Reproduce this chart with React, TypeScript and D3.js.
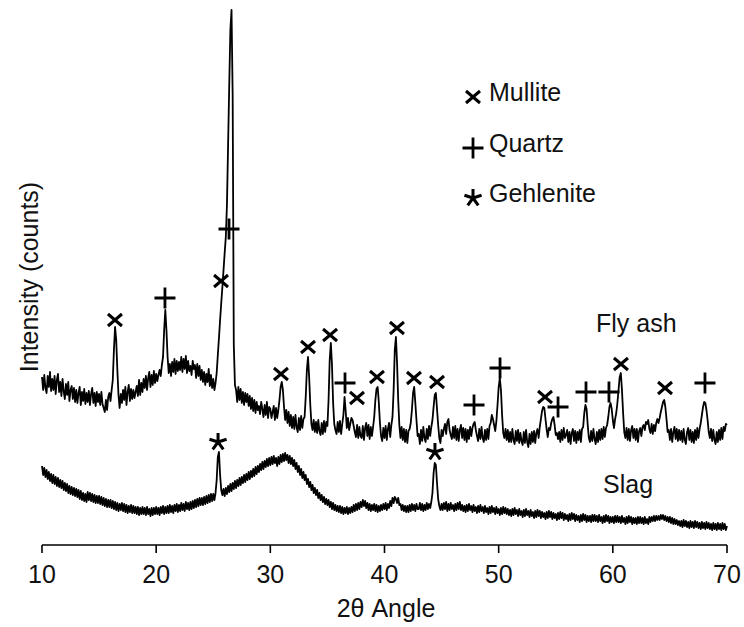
import React from 'react';
import * as d3 from 'd3';

// Diffraction angle sampling (2θ, degrees)
const ANGLE_START = 10;
const ANGLE_STEP = 0.1;

// Fly ash intensity (arbitrary counts), one row per degree, 10.0 … 69.9, then 70.0
const flyAsh: number[] = [
  168,155,170,157,152,169,158,173,154,166,
  155,169,151,165,171,153,163,149,166,154,
  146,161,150,163,144,155,159,146,157,143,
  155,142,152,158,140,153,144,156,141,152,
  143,154,140,151,157,142,152,139,153,143,
  151,140,153,141,137,133,145,135,148,152,
  144,155,165,195,218,205,175,150,137,151,
  142,155,145,158,140,153,160,144,156,146,
  155,147,153,159,149,165,150,162,153,166,
  157,169,155,167,173,158,170,160,174,162,
  171,164,170,175,169,180,188,215,235,215,
  188,172,181,169,183,173,186,171,184,174,
  183,175,188,173,186,176,189,172,184,174,
  179,170,184,176,180,167,181,169,179,165,
  175,163,173,160,171,163,176,159,170,157,
  166,155,162,172,190,207,225,242,258,275,
  292,308,340,400,460,515,535,450,200,160,
  155,143,158,145,156,142,153,140,152,143,
  151,139,149,136,147,134,145,132,143,135,
  139,131,143,136,128,140,130,143,127,138,
  136,127,133,139,125,137,127,135,145,158,
  163,155,138,125,135,122,133,119,130,117,
  128,116,130,118,113,127,115,129,117,126,
  128,148,175,188,168,140,121,115,125,113,
  123,112,125,114,110,122,111,124,113,123,
  119,145,185,202,180,142,121,115,111,123,
  113,124,111,121,130,148,134,117,127,115,
  121,127,125,119,113,108,120,107,118,109,
  107,119,105,117,122,109,120,106,118,109,
  118,128,145,156,158,143,122,109,104,117,
  107,119,105,116,122,108,120,128,155,195,
  208,182,145,120,107,118,105,116,103,115,
  102,114,116,122,135,152,158,142,125,109,
  111,101,115,104,118,107,103,116,106,119,
  109,118,125,138,150,152,136,120,107,102,
  115,109,116,121,111,123,126,115,110,106,
  118,107,119,105,116,104,115,120,107,117,
  105,116,103,115,106,118,109,117,121,123,
  115,109,104,116,106,118,107,103,115,105,
  116,106,119,122,130,126,120,114,124,140,
  158,167,155,130,112,107,116,105,115,103,
  113,103,116,105,101,114,104,115,102,112,
  104,100,113,102,115,103,98,111,101,113,
  103,114,102,112,116,107,118,126,134,138,
  137,126,116,108,117,115,122,126,128,120,
  110,112,106,113,103,115,105,117,107,110,
  115,103,113,101,112,116,104,114,102,113,
  105,115,103,116,118,132,140,136,120,107,
  103,114,104,116,106,101,113,103,115,105,
  116,106,118,108,117,120,128,138,142,136,
  125,117,126,132,142,155,168,172,155,132,
  113,107,117,105,116,104,115,119,107,116,
  105,116,103,114,117,109,118,120,115,123,
  121,125,116,112,121,111,120,114,122,126,
  122,127,133,138,143,145,138,126,113,115,
  105,116,103,113,118,106,116,104,115,105,
  114,103,116,105,101,113,117,105,115,103,
  113,102,115,105,117,107,116,122,130,138,
  143,142,135,125,113,107,116,104,115,105,
  101,113,103,115,105,117,106,118,114,121,
  120,
];

// Slag intensity (arbitrary counts), same sampling
const slag: number[] = [
  79,70,77,68,75,66,73,64,71,62,
  70,61,68,59,67,58,65,57,64,55,
  62,54,61,52,59,51,58,50,57,49,
  56,48,55,46,54,45,52,44,51,43,
  53,45,52,44,51,43,50,42,49,42,
  49,41,48,40,47,39,46,38,45,38,
  45,37,44,36,43,35,42,34,41,35,
  42,34,41,33,40,32,39,33,40,32,
  39,32,38,31,38,30,37,31,38,31,
  37,30,38,31,36,29,37,30,37,31,
  38,31,37,30,38,32,39,31,38,32,
  39,32,40,33,39,32,40,34,41,33,
  40,34,42,35,41,34,43,36,42,35,
  43,36,44,37,45,38,46,39,47,40,
  47,40,48,41,49,42,50,43,51,44,
  51,45,52,65,88,93,70,55,50,56,
  49,57,51,59,53,61,54,62,56,64,
  57,65,59,67,60,68,62,70,63,71,
  65,73,66,74,68,76,69,78,71,79,
  73,81,75,83,76,84,78,86,79,87,
  80,88,81,89,82,87,79,88,81,90,
  83,91,84,92,85,90,82,89,81,87,
  79,85,76,82,73,79,70,76,67,73,
  65,70,61,66,58,63,55,60,52,57,
  50,55,47,52,45,50,43,48,41,46,
  40,45,38,43,36,42,35,40,34,39,
  33,39,32,38,31,37,32,38,31,37,
  32,38,33,40,34,41,35,42,36,43,
  38,45,39,44,37,42,35,41,34,40,
  35,41,34,40,33,39,34,40,35,41,
  36,42,35,41,37,44,39,47,42,48,
  46,42,47,40,41,35,40,34,39,33,
  39,33,40,34,41,35,40,34,41,36,
  36,42,35,41,34,40,35,42,36,41,
  37,43,52,72,82,80,62,46,39,35,
  41,35,42,36,43,34,41,35,42,36,
  40,34,41,35,42,36,43,35,40,34,
  39,33,40,34,41,35,39,33,40,34,
  38,32,39,33,40,34,38,32,39,33,
  37,31,38,32,39,33,37,31,38,32,
  36,30,37,31,38,32,37,31,36,30,
  35,29,36,30,37,31,35,29,36,30,
  34,28,35,29,36,30,34,28,35,29,
  33,27,34,28,35,29,34,27,33,28,
  32,26,33,27,34,28,33,26,32,27,
  31,25,32,26,33,27,32,25,31,26,
  30,24,31,25,32,26,31,24,30,25,
  29,23,30,24,31,25,30,23,29,24,
  29,23,30,24,30,24,29,23,30,24,
  28,22,29,23,30,24,29,22,28,23,
  28,22,29,23,29,23,28,22,29,23,
  27,21,28,22,29,23,28,21,27,22,
  27,21,28,22,28,22,27,21,28,22,
  26,21,28,23,28,24,29,24,29,25,
  29,25,30,26,30,25,29,24,28,23,
  28,22,27,21,26,21,25,20,24,19,
  24,18,25,19,24,18,23,17,24,18,
  23,17,24,18,23,17,22,16,23,17,
  22,16,23,17,22,16,21,15,22,16,
  21,15,22,16,21,15,22,16,21,15,
  19,
];

const xTicks = [10, 20, 30, 40, 50, 60, 70];

// Phase annotations: [2θ angle, intensity position]
const mulliteMarks: [number, number][] = [
  [16.39, 225], [25.68, 264], [30.93, 171], [33.3, 198], [35.23, 210],
  [37.59, 147], [39.34, 168], [41.09, 217], [42.58, 167], [44.6, 163],
  [54.06, 148], [60.71, 181], [64.57, 157],
];
const quartzMarks: [number, number][] = [
  [20.77, 247], [26.38, 316], [36.54, 162], [47.84, 140], [50.12, 177],
  [55.2, 138], [57.65, 153], [59.66, 153], [68.07, 162],
];
const gehleniteMarks: [number, number][] = [[25.42, 103], [44.42, 93]];

const legendLabels = ['Mullite', 'Quartz', 'Gehlenite'];
const seriesLabels = ['Fly ash', 'Slag'];

const FONT = "'Liberation Sans', Arial, sans-serif";
const FS = 25;

function crossPath(cx: number, cy: number) {
  return `M${cx - 7},${cy - 6}L${cx + 7},${cy + 6}M${cx - 7},${cy + 6}L${cx + 7},${cy - 6}`;
}
function plusPath(cx: number, cy: number) {
  return `M${cx - 10.5},${cy}H${cx + 10.5}M${cx},${cy - 10.5}V${cy + 10.5}`;
}
function starPath(cx: number, cy: number) {
  let p = '';
  for (let k = 0; k < 5; k++) {
    const a = ((-90 + k * 72) * Math.PI) / 180;
    p += `M${cx},${cy}L${cx + 9 * Math.cos(a)},${cy + 9 * Math.sin(a)}`;
  }
  return p;
}

export default function App() {
  const W = 744;
  const H = 627;
  const x = d3.scaleLinear().domain([10, 70]).range([42, 727]);
  const y = d3.scaleLinear().domain([0, 545]).range([545, 0]);
  const line = d3
    .line<number>()
    .x((_, i) => x(ANGLE_START + i * ANGLE_STEP))
    .y((d) => y(d));

  const markerPaths = [
    { marks: mulliteMarks, fn: crossPath, sw: 3 },
    { marks: quartzMarks, fn: plusPath, sw: 2.8 },
    { marks: gehleniteMarks, fn: starPath, sw: 3 },
  ];
  const legendFns = [crossPath, plusPath, starPath];
  const legendSw = [3, 2.8, 3];
  const legendBase = [101, 152, 202];

  return (
    <svg
      width={W}
      height={H}
      style={{ position: 'absolute', left: 0, top: 0, background: '#fff' }}
      fontFamily={FONT}
    >
      <rect x={0} y={0} width={W} height={H} fill="#fff" />
      <path d={line(slag) || ''} fill="none" stroke="#000" strokeWidth={1.8} strokeLinejoin="round" />
      <path d={line(flyAsh) || ''} fill="none" stroke="#000" strokeWidth={1.8} strokeLinejoin="round" />

      {markerPaths.map((m, mi) =>
        m.marks.map((d, i) => (
          <path key={`${mi}-${i}`} d={m.fn(x(d[0]), y(d[1]))} stroke="#000" strokeWidth={m.sw} fill="none" />
        ))
      )}

      {/* x axis */}
      <line x1={x(10)} x2={x(70)} y1={545} y2={545} stroke="#000" strokeWidth={1.6} />
      {xTicks.map((t) => (
        <g key={t}>
          <line x1={x(t)} x2={x(t)} y1={545} y2={553} stroke="#000" strokeWidth={1.6} />
          <text x={x(t)} y={583} textAnchor="middle" fontSize={FS} fill="#111">
            {t}
          </text>
        </g>
      ))}
      <text x={386} y={617} textAnchor="middle" fontSize={FS} fill="#111">
        2θ Angle
      </text>
      <text
        transform="translate(38,277) rotate(-90)"
        textAnchor="middle"
        fontSize={FS}
        fill="#111"
      >
        Intensity (counts)
      </text>

      {/* series labels */}
      <text x={596} y={332} fontSize={FS} fill="#111">
        {seriesLabels[0]}
      </text>
      <text x={603} y={493} fontSize={FS} fill="#111">
        {seriesLabels[1]}
      </text>

      {/* legend */}
      {legendLabels.map((lab, i) => (
        <g key={lab}>
          <path d={legendFns[i](473, legendBase[i] - 4)} stroke="#000" strokeWidth={legendSw[i]} fill="none" />
          <text x={489} y={legendBase[i]} fontSize={FS} fill="#111">
            {lab}
          </text>
        </g>
      ))}
    </svg>
  );
}
